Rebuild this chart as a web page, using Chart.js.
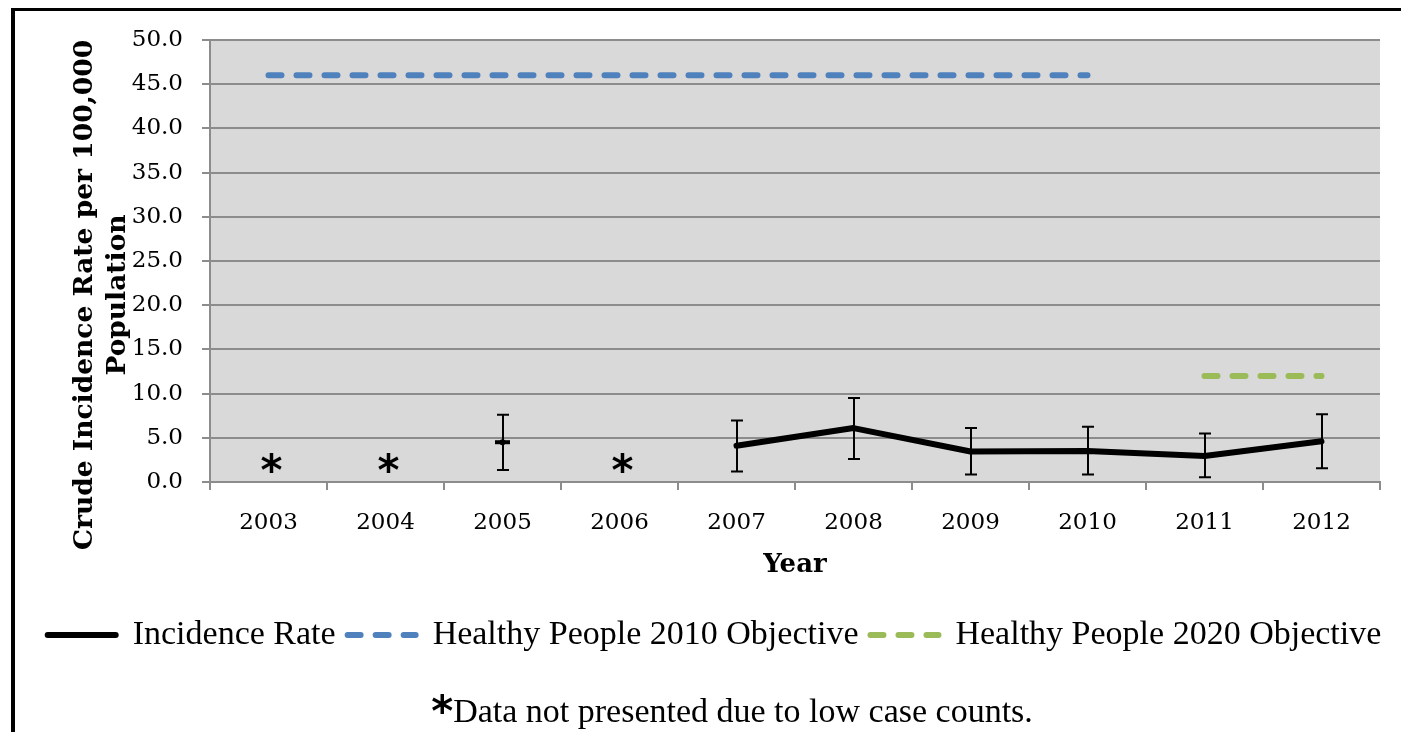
<!DOCTYPE html>
<html>
<head>
<meta charset="utf-8">
<script src="https://cdn.jsdelivr.net/npm/chart.js@4.4.1/dist/chart.umd.min.js"></script>
<style>
  html, body { margin: 0; padding: 0; background: #fff; overflow: hidden; }
</style>
</head>
<body>
<canvas id="chart" width="1401" height="732"></canvas>
<script>
// data
const years = ['2003', '2004', '2005', '2006', '2007', '2008', '2009', '2010', '2011', '2012'];
const incidenceRate = [null, null, 4.5, null, 4.1, 6.1, 3.45, 3.5, 2.95, 4.6];
const rateLower = [null, null, 1.35, null, 1.2, 2.6, 0.85, 0.85, 0.55, 1.55];
const rateUpper = [null, null, 7.6, null, 6.95, 9.5, 6.1, 6.25, 5.5, 7.65];
const hp2010 = [46, 46, 46, 46, 46, 46, 46, 46, null, null];
const hp2020 = [null, null, null, null, null, null, null, null, 12, 12];
const suppressedYears = ['2003', '2004', '2006'];
const suppressedMarkValue = 2.1;
const yTitleLines = ['Crude Incidence Rate per 100,000', 'Population'];
const footnote = 'Data not presented due to low case counts.';

const GRID = '#8c8c8c';
const serif = 'DejaVu Serif';
const legendFont = 'Liberation Serif';
const starFont = 'bold 42px "DejaVu Sans"';

// single points (no neighbours) get a short dash like the original
const isolated = incidenceRate.map((v, i) =>
  v != null && incidenceRate[i - 1] == null && incidenceRate[i + 1] == null);

const backdrop = {
  id: 'backdrop',
  afterLayout(chart) {
    // legend sits a bit right of the padded box in the original
    chart.legend.left += 17;
    chart.legend.right += 17;
  },
  beforeDraw(chart) {
    const {ctx, chartArea: a} = chart;
    ctx.save();
    ctx.fillStyle = '#fff';
    ctx.fillRect(0, 0, chart.width, chart.height);
    ctx.fillStyle = '#d9d9d9';
    ctx.fillRect(a.left, a.top, a.right - a.left, a.bottom - a.top);
    // outer frame (left + top visible)
    ctx.fillStyle = '#000';
    ctx.fillRect(11, 8, chart.width, 3);
    ctx.fillRect(11, 8, 4, chart.height);
    ctx.restore();
  }
};

const errorBars = {
  id: 'errorBars',
  afterDatasetsDraw(chart) {
    const {ctx, scales: {x, y}} = chart;
    ctx.save();
    ctx.strokeStyle = '#000';
    ctx.lineWidth = 2;
    years.forEach((yr, i) => {
      if (rateLower[i] == null) return;
      const px = Math.round(x.getPixelForValue(i));
      const top = y.getPixelForValue(rateUpper[i]);
      const bot = y.getPixelForValue(rateLower[i]);
      ctx.beginPath();
      ctx.moveTo(px, top); ctx.lineTo(px, bot);
      ctx.moveTo(px - 6, top); ctx.lineTo(px + 6, top);
      ctx.moveTo(px - 6, bot); ctx.lineTo(px + 6, bot);
      ctx.stroke();
    });
    ctx.restore();
  }
};

const notes = {
  id: 'notes',
  afterDraw(chart) {
    const {ctx, scales: {x, y}} = chart;
    ctx.save();
    ctx.fillStyle = '#000';

    // asterisks for suppressed years
    ctx.font = starFont;
    ctx.textAlign = 'center';
    ctx.textBaseline = 'alphabetic';
    const m = ctx.measureText('*');
    suppressedYears.forEach(yr => {
      const px = x.getPixelForValue(years.indexOf(yr)) + 3;
      const cy = y.getPixelForValue(suppressedMarkValue);
      ctx.fillText('*', px, cy + (m.actualBoundingBoxAscent - m.actualBoundingBoxDescent) / 2);
    });

    // y axis title, two lines
    ctx.save();
    ctx.translate(85, 295);
    ctx.rotate(-Math.PI / 2);
    ctx.font = 'bold 26.5px "' + serif + '"';
    ctx.textBaseline = 'middle';
    ctx.fillText(yTitleLines[0], 0, 0);
    ctx.fillText(yTitleLines[1], 0, 33);
    ctx.restore();

    // footnote
    ctx.textAlign = 'left';
    ctx.font = starFont;
    const starW = ctx.measureText('*').width;
    ctx.font = '34px "' + legendFont + '"';
    const textW = ctx.measureText(footnote).width;
    const fx = 732 - (starW + textW) / 2;
    ctx.font = starFont;
    ctx.fillText('*', fx, 726);
    ctx.font = '34px "' + legendFont + '"';
    ctx.fillText(footnote, fx + starW, 722);
    ctx.restore();
  }
};

new Chart(document.getElementById('chart'), {
  type: 'line',
  data: {
    labels: years,
    datasets: [
      {
        label: 'Incidence Rate',
        data: incidenceRate,
        borderColor: '#000',
        backgroundColor: '#000',
        borderWidth: 6,
        borderCapStyle: 'round',
        borderJoinStyle: 'round',
        pointStyle: 'line',
        pointRadius: isolated.map(s => s ? 7.5 : 0),
        pointBorderWidth: 4,
        pointBorderColor: '#000',
        pointHoverRadius: 0
      },
      {
        label: 'Healthy People 2010 Objective',
        data: hp2010,
        borderColor: '#4f81bd',
        backgroundColor: '#4f81bd',
        borderWidth: 6,
        borderDash: [13, 15],
        borderCapStyle: 'round',
        pointRadius: 0
      },
      {
        label: 'Healthy People 2020 Objective',
        data: hp2020,
        borderColor: '#9bbb59',
        backgroundColor: '#9bbb59',
        borderWidth: 6,
        borderDash: [13, 15],
        borderCapStyle: 'round',
        pointRadius: 0
      }
    ]
  },
  options: {
    responsive: false,
    animation: false,
    layout: { padding: { left: 15, top: 40, right: 21, bottom: 70 } },
    scales: {
      x: {
        offset: true,
        grid: { offset: true, drawOnChartArea: false, color: GRID, lineWidth: 2, tickLength: 8 },
        border: { color: GRID, width: 2 },
        ticks: { color: '#000', padding: 19, font: { family: serif, size: 23 } },
        title: {
          display: true,
          text: 'Year',
          color: '#000',
          font: { family: serif, size: 26, weight: 'bold' },
          padding: { top: 0, bottom: 25 }
        },
        afterFit(scale) { scale.height = 124; }
      },
      y: {
        min: 0,
        max: 50,
        ticks: {
          stepSize: 5,
          color: '#000',
          padding: 19,
          font: { family: serif, size: 23 },
          callback: v => v.toFixed(1)
        },
        grid: { color: GRID, lineWidth: 2, tickLength: 8 },
        border: { color: GRID, width: 2 },
        afterFit(scale) { scale.width = 195; }
      }
    },
    plugins: {
      tooltip: { enabled: false },
      legend: {
        position: 'bottom',
        labels: {
          usePointStyle: true,
          pointStyleWidth: 68,
          padding: 12,
          color: '#000',
          font: { family: legendFont, size: 34 },
          generateLabels(chart) {
            return chart.data.datasets.map((ds, i) => ({
              text: ds.label,
              datasetIndex: i,
              pointStyle: 'line',
              strokeStyle: ds.borderColor,
              fillStyle: ds.borderColor,
              lineWidth: 6,
              lineCap: 'round',
              lineDash: ds.borderDash || [],
              fontColor: '#000'
            }));
          }
        }
      }
    }
  },
  plugins: [backdrop, errorBars, notes]
});
</script>
</body>
</html>
